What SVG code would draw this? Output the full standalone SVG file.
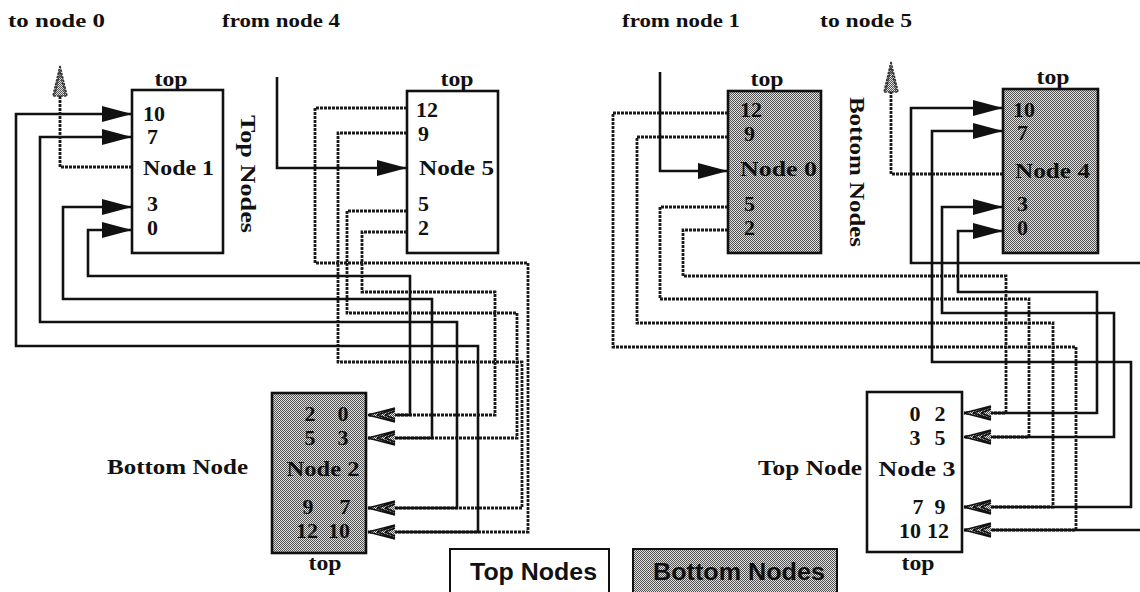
<svg xmlns="http://www.w3.org/2000/svg" width="1140" height="592" viewBox="0 0 1140 592">
<defs>
<pattern id="stip" width="2" height="2" patternUnits="userSpaceOnUse">
<rect width="2" height="2" fill="#e2e2e2"/>
<rect width="1" height="1" fill="#505050"/>
<rect x="1" y="1" width="1" height="1" fill="#505050"/>
</pattern>
<marker id="ah" markerUnits="userSpaceOnUse" markerWidth="30" markerHeight="16" refX="30" refY="8" orient="auto">
<path d="M0,0 L30,8 L0,16 Z" fill="#111"/>
</marker>
<g id="wah">
<path d="M0,0 L27,-7 L27,7 Z" fill="url(#stip)"/>
<path d="M0,0 L27,-7 M0,0 L27,7 M9,0 L27,-6 M9,0 L27,6 M17,0 L27,-4 M17,0 L27,4" fill="none" stroke="#111" stroke-width="1.8"/>
</g>
<g id="uah">
<path d="M0,0 L7,30 L-7,30 Z" fill="url(#stip)" stroke="#333" stroke-width="1.6" stroke-dasharray="2.5 1"/>
<path d="M0,6 L5,28 M0,6 L-5,28" fill="none" stroke="#333" stroke-width="1.3" stroke-dasharray="2.5 1"/>
</g>
</defs>
<style>
.w{fill:none;stroke:#111;stroke-width:2.6}
.d{fill:none;stroke:#1a1a1a;stroke-width:2.8;stroke-dasharray:3 1}
.bx{stroke:#111;stroke-width:2.6}
.n{font-family:"Liberation Serif","Times New Roman",serif;font-weight:bold;font-size:22px;fill:#111}
.h{font-family:"Liberation Serif","Times New Roman",serif;font-weight:bold;font-size:19px;fill:#111}
.m{text-anchor:middle}
.lg{font-family:"Liberation Sans",Arial,sans-serif;font-weight:bold;font-size:23px;fill:#111}
</style>
<rect width="1140" height="592" fill="#fff"/>

<g id="labels">
<text class="h" x="8" y="27" textLength="97" lengthAdjust="spacingAndGlyphs">to node 0</text>
<text class="h" x="222" y="27" textLength="118" lengthAdjust="spacingAndGlyphs">from node 4</text>
<text class="h" x="622" y="27" textLength="118" lengthAdjust="spacingAndGlyphs">from node 1</text>
<text class="h" x="820" y="27" textLength="92" lengthAdjust="spacingAndGlyphs">to node 5</text>
<text class="n m" transform="translate(241,174) rotate(90)" textLength="118" lengthAdjust="spacingAndGlyphs">Top Nodes</text>
<text class="n m" transform="translate(850,172) rotate(90)" textLength="150" lengthAdjust="spacingAndGlyphs">Bottom Nodes</text>
<text class="n" x="107" y="474" textLength="141" lengthAdjust="spacingAndGlyphs">Bottom Node</text>
<text class="n" x="758" y="475" textLength="104" lengthAdjust="spacingAndGlyphs">Top Node</text>
</g>

<g id="connectors">
<path class="d" d="M407,108 H315 V263 H528 V532 H368"/>
<path class="d" d="M407,133 H338 V362 H522 V508 H368"/>
<path class="d" d="M407,211 H347 V313 H517 V438 H368"/>
<path class="d" d="M407,232 H362 V292 H495 V415 H368"/>
<path class="w" d="M368,532 H478 V346 H16 V114 H132" marker-end="url(#ah)"/>
<path class="w" d="M368,508 H457 V322 H40 V137 H132" marker-end="url(#ah)"/>
<path class="w" d="M368,438 H432 V299 H63 V207 H132" marker-end="url(#ah)"/>
<path class="w" d="M368,415 H410 V276 H88 V230 H132" marker-end="url(#ah)"/>
<path class="w" d="M277,77 V168 H407" marker-end="url(#ah)"/>
<path class="d" d="M132,167 H60 V94"/>
<use href="#uah" x="60" y="66"/>
<use href="#wah" x="368" y="415"/>
<use href="#wah" x="368" y="438"/>
<use href="#wah" x="368" y="508"/>
<use href="#wah" x="368" y="532"/>

<path class="d" d="M728,113 H613 V347 H1076 V530 H964"/>
<path class="d" d="M728,137 H637 V323 H1053 V507 H964"/>
<path class="d" d="M728,207 H660 V299 H1029 V437 H964"/>
<path class="d" d="M728,230 H683 V276 H1006 V413 H964"/>
<path class="w" d="M964,530 H1140"/>
<path class="w" d="M1140,263 H911 V108 H1003" marker-end="url(#ah)"/>
<path class="w" d="M964,507 H1131 V362 H932 V131 H1003" marker-end="url(#ah)"/>
<path class="w" d="M964,437 H1114 V313 H942 V207 H1003" marker-end="url(#ah)"/>
<path class="w" d="M964,413 H1097 V292 H958 V231 H1003" marker-end="url(#ah)"/>
<path class="w" d="M660,72 V171 H728" marker-end="url(#ah)"/>
<path class="d" d="M1003,174 H891 V90"/>
<use href="#uah" x="891" y="62"/>
<use href="#wah" x="964" y="413"/>
<use href="#wah" x="964" y="437"/>
<use href="#wah" x="964" y="507"/>
<use href="#wah" x="964" y="530"/>
</g>

<g id="node-1">
<rect class="bx" x="132" y="90" width="91" height="163" fill="#fff"/>
<text class="n m" x="171" y="86" textLength="33" lengthAdjust="spacingAndGlyphs">top</text>
<text class="n" x="143" y="121">10</text>
<text class="n" x="147" y="144">7</text>
<text class="n" x="143" y="175" textLength="71" lengthAdjust="spacingAndGlyphs">Node 1</text>
<text class="n" x="147" y="211">3</text>
<text class="n" x="147" y="235">0</text>
</g>

<g id="node-5">
<rect class="bx" x="407" y="91" width="91" height="162" fill="#fff"/>
<text class="n m" x="457" y="86" textLength="33" lengthAdjust="spacingAndGlyphs">top</text>
<text class="n" x="416" y="117">12</text>
<text class="n" x="418" y="141">9</text>
<text class="n" x="419" y="175" textLength="75" lengthAdjust="spacingAndGlyphs">Node 5</text>
<text class="n" x="418" y="211">5</text>
<text class="n" x="418" y="235">2</text>
</g>

<g id="node-2">
<rect class="bx" x="272" y="393" width="94" height="160" fill="url(#stip)"/>
<text class="n m" x="325" y="570" textLength="33" lengthAdjust="spacingAndGlyphs">top</text>
<text class="n m" x="310" y="421">2</text>
<text class="n m" x="343" y="421">0</text>
<text class="n m" x="310" y="445">5</text>
<text class="n m" x="343" y="445">3</text>
<text class="n m" x="323" y="476" textLength="73" lengthAdjust="spacingAndGlyphs">Node 2</text>
<text class="n m" x="308" y="514">9</text>
<text class="n m" x="345" y="514">7</text>
<text class="n m" x="307" y="538">12</text>
<text class="n m" x="339" y="538">10</text>
</g>

<g id="node-0">
<rect class="bx" x="728" y="91" width="93" height="162" fill="url(#stip)"/>
<text class="n m" x="767" y="86" textLength="33" lengthAdjust="spacingAndGlyphs">top</text>
<text class="n" x="740" y="117">12</text>
<text class="n" x="744" y="141">9</text>
<text class="n" x="740" y="176" textLength="77" lengthAdjust="spacingAndGlyphs">Node 0</text>
<text class="n" x="744" y="211">5</text>
<text class="n" x="744" y="235">2</text>
</g>

<g id="node-4">
<rect class="bx" x="1003" y="89" width="95" height="164" fill="url(#stip)"/>
<text class="n m" x="1053" y="84" textLength="33" lengthAdjust="spacingAndGlyphs">top</text>
<text class="n" x="1013" y="117">10</text>
<text class="n" x="1017" y="140">7</text>
<text class="n" x="1015" y="178" textLength="75" lengthAdjust="spacingAndGlyphs">Node 4</text>
<text class="n" x="1017" y="211">3</text>
<text class="n" x="1017" y="235">0</text>
</g>

<g id="node-3">
<rect class="bx" x="867" y="392" width="95" height="160" fill="#fff"/>
<text class="n m" x="918" y="570" textLength="33" lengthAdjust="spacingAndGlyphs">top</text>
<text class="n m" x="915" y="421">0</text>
<text class="n m" x="940" y="421">2</text>
<text class="n m" x="915" y="445">3</text>
<text class="n m" x="940" y="445">5</text>
<text class="n m" x="917" y="476" textLength="77" lengthAdjust="spacingAndGlyphs">Node 3</text>
<text class="n m" x="918" y="514">7</text>
<text class="n m" x="940" y="514">9</text>
<text class="n m" x="910" y="538">10</text>
<text class="n m" x="938" y="538">12</text>
</g>

<g id="legend">
<rect x="450" y="549" width="159" height="50" fill="#fff" stroke="#111" stroke-width="2"/>
<text class="lg" x="470" y="580" textLength="127" lengthAdjust="spacingAndGlyphs">Top Nodes</text>
<rect x="633" y="549" width="204" height="50" fill="url(#stip)" stroke="#111" stroke-width="2"/>
<text class="lg" x="653" y="580" textLength="172" lengthAdjust="spacingAndGlyphs">Bottom Nodes</text>
</g>
</svg>
